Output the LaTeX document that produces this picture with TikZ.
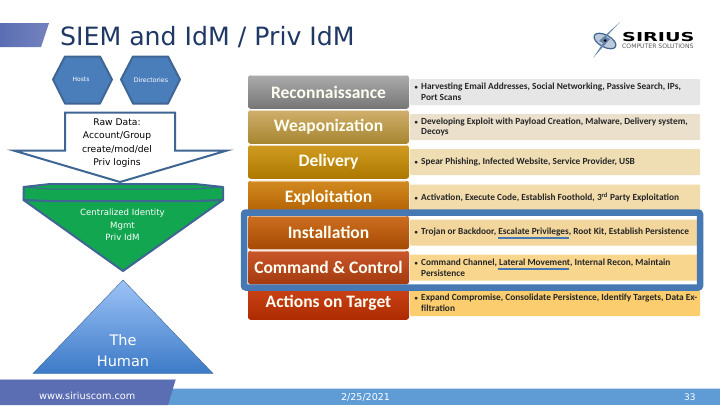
\documentclass[tikz,border=0pt]{standalone}
\usepackage{fontspec}
\usepackage{graphicx}
\setmainfont{DejaVu Sans}
\newfontfamily\calfont{Carlito}
\definecolor{navy}{HTML}{1F3864}
\definecolor{edgeblue}{HTML}{3F6593}
\definecolor{hexblue}{HTML}{4A7EBB}
\definecolor{slate}{HTML}{5B6DB3}
\definecolor{barblue}{HTML}{5F9CD6}
\definecolor{frameblue}{HTML}{4678B4}
\definecolor{funnelgreen}{HTML}{12A650}
\definecolor{humantop}{HTML}{9DC3F7}
\definecolor{humanbot}{HTML}{3C7AC7}
\tikzset{
 x=1pt,y=-1pt,
 txt/.style={inner sep=0,align=center,font=\fontsize{#1}{#1}\selectfont},
 txt/.default=8,
 stage/.style={rounded corners=2.5pt,minimum width=161pt,minimum height=33.5pt,inner sep=0,text=white!95!yellow,font=\calfont\bfseries\fontsize{17.5}{17.5}\selectfont},
 panel/.style={rounded corners=1pt,anchor=west,minimum width=290pt,minimum height=26pt,inner sep=0},
 lbl/.style={anchor=west,align=left,inner sep=0,text=black!85,font=\calfont\bfseries\fontsize{9.33}{10.7}\selectfont},
 hexa/.style={draw=edgeblue,fill=hexblue,line width=2pt,line join=round}
}
\newcommand{\stagebox}[6]{%
 \node[panel,fill=#3] (p#1) at (410,#2) {};
 \node[stage,top color=#4,bottom color=#5] (s#1) at (328.5,#2) {#6};
 \draw[white,opacity=.45,line width=.8pt] ([xshift=3pt,yshift=-.6pt]s#1.north west) -- ([xshift=-3pt,yshift=-.6pt]s#1.north east);
}
\newcommand{\bul}{\makebox[7pt][l]{\hspace{.5pt}\fontsize{6.5}{6.5}\selectfont•}}
\begin{document}
\begin{tikzpicture}
\useasboundingbox (0,0) rectangle (720,405);
\fill[white] (0,0) rectangle (720,405);
% header
\path[left color=slate,right color=slate!85!white] (0,23) -- (49,23) -- (41,47) -- (0,47) -- cycle;
\node[anchor=base west,inner sep=0,text=navy,font=\fontsize{25.2}{25.2}\selectfont] (title) at (60,45) {SIEM and IdM / Priv IdM};
% logo
\begin{scope}
 \draw[edgeblue,line width=1.2pt,fill=edgeblue!35,rotate around={-28:(605,41)}] (605,41) ellipse (12 and 6);
 \fill[edgeblue!80] (620,22) -- (606,37) -- (610,39) -- (593,58) -- (603,43) -- (599,41) -- cycle;
 \fill[black] (605,40.5) circle (1.5);
 \node[anchor=west,inner sep=0,font=\bfseries\fontsize{12.3}{12.3}\selectfont] (logo1) at (622,37.5) {\scalebox{1.56}[1]{SIRIUS}};
 \node[anchor=west,inner sep=0,text=black!65,font=\fontsize{6.1}{6.1}\selectfont] (logo2) at (622,46) {COMPUTER SOLUTIONS};
\end{scope}
% hexagons
\draw[hexa] (53,79.5) -- (65,56.5) -- (100,56.5) -- (112,79.5) -- (100,103.5) -- (65,103.5) -- cycle;
\node[txt=6,text=white] (hosts) at (81,79.5) {Hosts};
\draw[hexa] (121,79.5) -- (133,56.5) -- (168,56.5) -- (180,79.5) -- (168,103.5) -- (133,103.5) -- cycle;
\node[txt=6.3,text=white] (dirs) at (151,80.5) {Directories};
% callout
\draw[edgeblue,line width=2pt,line join=miter,fill=white] (65,112.5) -- (175,112.5) -- (175,150.5) -- (227,150.5) -- (120,182) -- (13.5,150.5) -- (65,150.5) -- cycle;
\node[inner sep=0,align=center,text=black,font=\fontsize{9.2}{13.3}\selectfont] (raw) at (117,143) {Raw Data:\\Account/Group\\create/mod/del\\Priv logins};
% funnel
\draw[edgeblue,line width=2pt,line join=round,fill=funnelgreen] (23.5,200) -- (223,200) -- (123,271) -- cycle;
\draw[edgeblue,line width=2pt,line join=round,fill=funnelgreen] (23.5,187) -- (50,184) -- (195,184) -- (223,187) -- (223,200) -- (195,201) -- (50,201) -- (23.5,200) -- cycle;
\draw[edgeblue,line width=1pt] (23.5,187) -- (50,189) -- (195,189) -- (223,187);
\node[inner sep=0,align=center,text=white,font=\fontsize{8.6}{12.6}\selectfont] (cent) at (122.5,225) {Centralized Identity\\Mgmt\\Priv IdM};
% human
\path[top color=humantop,bottom color=humanbot,draw=edgeblue,line width=.4pt] (33,373.5) -- (123,280) -- (213,373.5) -- cycle;
\node[inner sep=0,align=center,text=white,font=\fontsize{14.5}{21}\selectfont] (human) at (123,350.5) {The\\Human};
% footer
\fill[barblue!35] (165,388) rectangle (720,389);
\fill[barblue] (168,389) rectangle (720,405);
\fill[slate!45] (0,379) -- (176,379) -- (176,380) -- (0,380) -- cycle;
\fill[slate] (0,380) -- (175.5,380) -- (168,405) -- (0,405) -- cycle;
\node[txt=9.7,text=white,anchor=west] (url) at (39,395.5) {www.siriuscom.com};
\node[txt=9.5,text=white,anchor=west] (date) at (341,397.5) {2/25/2021};
\node[txt=9,text=white,anchor=west] (page) at (684,397.5) {33};
% kill chain
\definecolor{pa}{HTML}{E6E6E6}\definecolor{pb}{HTML}{EAE0CC}\definecolor{pc}{HTML}{EFDDB4}
\definecolor{pd}{HTML}{F3DCAC}\definecolor{pe}{HTML}{F3D69C}\definecolor{pf}{HTML}{F8D68E}\definecolor{pg}{HTML}{FBCD6E}
\definecolor{ta}{HTML}{ABABAB}\definecolor{ba}{HTML}{767676}
\definecolor{tb}{HTML}{CFAF6B}\definecolor{bb}{HTML}{A68530}
\definecolor{tc}{HTML}{CF9B20}\definecolor{bc}{HTML}{AC7800}
\definecolor{td}{HTML}{D18A20}\definecolor{bd}{HTML}{B35F00}
\definecolor{te}{HTML}{CC6F20}\definecolor{be}{HTML}{A64A05}
\definecolor{tf}{HTML}{C9572A}\definecolor{bf}{HTML}{A43A10}
\definecolor{tg}{HTML}{CC4518}\definecolor{bg}{HTML}{AD2A00}
\stagebox{a}{92}{pa}{ta}{ba}{Reconnaissance}
\stagebox{b}{127}{pb}{tb}{bb}{Weaponization}
\stagebox{c}{162}{pc}{tc}{bc}{Delivery}
\stagebox{d}{197.5}{pd}{td}{bd}{Exploitation}
\stagebox{e}{232.5}{pe}{te}{be}{Installation}
\stagebox{f}{267.5}{pf}{tf}{bf}{Command \& Control}
\stagebox{g}{303}{pg}{tg}{bg}{Actions on Target}
\node[lbl] (la) at (414,92) {\bul Harvesting Email Addresses, Social Networking, Passive Search, IPs,\\\hspace{7pt}Port Scans};
\node[lbl] (lb) at (414,127) {\bul Developing Exploit with Payload Creation, Malware, Delivery system,\\\hspace{7pt}Decoys};
\node[lbl] (lc) at (414,162) {\bul Spear Phishing, Infected Website, Service Provider, USB};
\node[lbl] (ld) at (414,197.5) {\bul Activation, Execute Code, Establish Foothold, 3\textsuperscript{rd} Party Exploitation};
\node[lbl] (le) at (414,232.5) {\bul Trojan or Backdoor, Escalate Privileges, Root Kit, Establish Persistence};
\node[lbl] (lf) at (414,267.5) {\bul Command Channel, Lateral Movement, Internal Recon, Maintain\\\hspace{7pt}Persistence};
\node[lbl] (lg) at (414,303) {\bul Expand Compromise, Consolidate Persistence, Identify Targets, Data Ex-\\\hspace{7pt}filtration};
\draw[frameblue,line width=2.5pt] (498,238) -- (569,238);
\draw[frameblue,line width=2.5pt] (498,269) -- (569,269);
\draw[frameblue,line width=6.5pt,rounded corners=2pt] (244,212.5) rectangle (700,287.5);
\end{tikzpicture}
\end{document}
